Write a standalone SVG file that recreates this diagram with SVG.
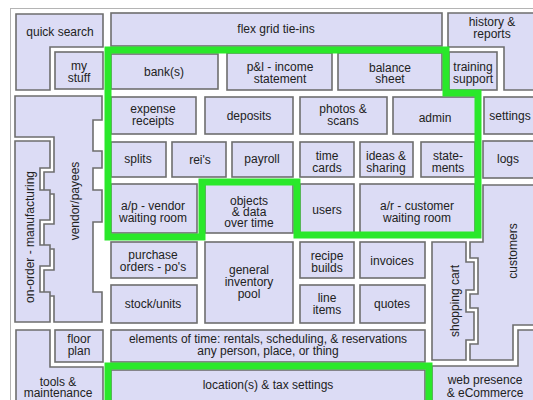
<svg xmlns="http://www.w3.org/2000/svg" width="533" height="400" viewBox="0 0 533 400">
<style>
.b{fill:#dcdcf5;stroke:#6e6e6e;stroke-width:1.6}
.t{font-family:"Liberation Sans",Arial,sans-serif;font-size:12px;fill:#222;text-anchor:middle}
.g{fill:none;stroke:#2ae82a;stroke-width:7;stroke-linejoin:miter}
</style>
<rect x="0" y="0" width="533" height="400" fill="#fff"/>
<rect x="10.5" y="8.5" width="530" height="400" fill="#fff" stroke="#b4b4b4" stroke-width="1"/>
<g id="quick-search"><path class="b" d="M16,14H103V47H50V90H16Z"/><text class="t" x="60" y="36">quick search</text></g>
<g id="my-stuff"><rect class="b" x="55" y="52" width="48" height="37"/><text class="t" x="79" y="70">my</text><text class="t" x="79" y="82">stuff</text></g>
<g id="flex-grid"><rect class="b" x="111" y="13" width="331" height="33"/><text class="t" x="276" y="33">flex grid tie-ins</text></g>
<g id="history"><path class="b" d="M448,13H540V90H504V47H448Z"/><text class="t" x="492" y="26">history &amp;</text><text class="t" x="492" y="38">reports</text></g>
<g id="banks"><rect class="b" x="111" y="54" width="107" height="35"/><text class="t" x="164" y="76">bank(s)</text></g>
<g id="pl"><rect class="b" x="227" y="53" width="105" height="37"/><text class="t" x="280" y="71">p&amp;l - income</text><text class="t" x="280" y="83">statement</text></g>
<g id="balance"><rect class="b" x="338" y="53" width="104" height="37"/><text class="t" x="390" y="72">balance</text><text class="t" x="390" y="83">sheet</text></g>
<g id="training"><rect class="b" x="449" y="52" width="48" height="38"/><text class="t" x="473" y="71">training</text><text class="t" x="473" y="83">support</text></g>
<g id="expense"><rect class="b" x="111" y="97" width="85" height="37"/><text class="t" x="153" y="113">expense</text><text class="t" x="153" y="125">receipts</text></g>
<g id="deposits"><rect class="b" x="205" y="97" width="88" height="37"/><text class="t" x="249" y="120">deposits</text></g>
<g id="photos"><rect class="b" x="300" y="97" width="87" height="37"/><text class="t" x="343" y="113">photos &amp;</text><text class="t" x="343" y="125">scans</text></g>
<g id="admin"><rect class="b" x="393" y="97" width="84" height="37"/><text class="t" x="435" y="122">admin</text></g>
<g id="settings"><rect class="b" x="484" y="97" width="56" height="37"/><text class="t" x="510" y="120">settings</text></g>
<g id="splits"><rect class="b" x="111" y="142" width="55" height="35"/><text class="t" x="138" y="163">splits</text></g>
<g id="reis"><rect class="b" x="172" y="142" width="54" height="35"/><text class="t" x="200" y="164">rei's</text></g>
<g id="payroll"><rect class="b" x="232" y="142" width="61" height="35"/><text class="t" x="262" y="163">payroll</text></g>
<g id="time-cards"><rect class="b" x="300" y="142" width="54" height="35"/><text class="t" x="327" y="160">time</text><text class="t" x="327" y="172">cards</text></g>
<g id="ideas"><rect class="b" x="360" y="142" width="53" height="35"/><text class="t" x="386" y="160">ideas &amp;</text><text class="t" x="386" y="172">sharing</text></g>
<g id="statements"><rect class="b" x="421" y="142" width="54" height="35"/><text class="t" x="448" y="160">state-</text><text class="t" x="448" y="172">ments</text></g>
<g id="logs"><rect class="b" x="483" y="141" width="57" height="37"/><text class="t" x="508" y="163">logs</text></g>
<g id="ap"><rect class="b" x="111" y="184" width="86" height="49"/><text class="t" x="153" y="210">a/p - vendor</text><text class="t" x="153" y="222">waiting room</text></g>
<g id="objects"><rect class="b" x="205" y="184" width="88" height="49"/><text class="t" x="249" y="205">objects</text><text class="t" x="249" y="216">&amp; data</text><text class="t" x="249" y="227">over time</text></g>
<g id="users"><rect class="b" x="300" y="184" width="54" height="49"/><text class="t" x="327" y="214">users</text></g>
<g id="ar"><rect class="b" x="360" y="184" width="115" height="49"/><text class="t" x="417" y="210">a/r - customer</text><text class="t" x="417" y="222">waiting room</text></g>
<g id="purchase"><rect class="b" x="111" y="242" width="86" height="36"/><text class="t" x="153" y="259">purchase</text><text class="t" x="153" y="271">orders - po's</text></g>
<g id="general"><rect class="b" x="205" y="242" width="88" height="81"/><text class="t" x="249" y="274">general</text><text class="t" x="249" y="286">inventory</text><text class="t" x="249" y="298">pool</text></g>
<g id="recipe"><rect class="b" x="300" y="242" width="54" height="36"/><text class="t" x="327" y="260">recipe</text><text class="t" x="327" y="272">builds</text></g>
<g id="invoices"><rect class="b" x="360" y="242" width="65" height="36"/><text class="t" x="392" y="265">invoices</text></g>
<g id="stock"><rect class="b" x="111" y="285" width="86" height="38"/><text class="t" x="153" y="308">stock/units</text></g>
<g id="line-items"><rect class="b" x="300" y="285" width="54" height="38"/><text class="t" x="327" y="302">line</text><text class="t" x="327" y="314">items</text></g>
<g id="quotes"><rect class="b" x="360" y="285" width="65" height="38"/><text class="t" x="392" y="308">quotes</text></g>
<g id="floor-plan"><rect class="b" x="55" y="330" width="48" height="32"/><text class="t" x="79" y="343">floor</text><text class="t" x="79" y="355">plan</text></g>
<g id="elements"><rect class="b" x="111" y="330" width="314" height="32"/><text class="t" x="268" y="343">elements of time: rentals, scheduling, &amp; reservations</text><text class="t" x="268" y="355">any person, place, or thing</text></g>
<g id="location"><rect class="b" x="111" y="370" width="314" height="40"/><text class="t" x="268" y="389">location(s) &amp; tax settings</text></g>
<g id="tools"><path class="b" d="M16,330H50V367H103V410H16Z"/><text class="t" x="58" y="386">tools &amp;</text><text class="t" x="58" y="397">maintenance</text></g>
<g id="web"><path class="b" d="M432,366H518V330H540V410H432Z"/><text class="t" x="485" y="384">web presence</text><text class="t" x="485" y="397">&amp; eCommerce</text></g>
<g id="vendor"><path class="b" d="M15,96H102V120H93V151H102V168H93V190H102V222H93V292H102V322H54V296H44V270H54V249H44V224H54V194H44V172H54V137H15Z"/><text class="t" transform="translate(79,201) rotate(-90)">vendor/payees</text></g>
<g id="on-order"><path class="b" d="M15,141H50V168H40V190H50V220H40V245H50V266H40V292H50V322H15Z"/><text class="t" transform="translate(34,237) rotate(-90)">on-order - manufacturing</text></g>
<g id="shopping-cart"><path class="b" d="M432,242H466V262H474V290H466V312H474V340H466V360H432Z"/><text class="t" transform="translate(459,301) rotate(-90)">shopping cart</text></g>
<g id="customers"><path class="b" d="M483,185H540V325H513V360H470V344H478V308H470V294H478V258H470V242H483Z"/><text class="t" transform="translate(517,251) rotate(-90)">customers</text></g>
<g id="connectors">
<path class="g" d="M108,50H446V93H478V235H297V182H202V237H108Z"/>
<path class="g" d="M108,410V366H429V410"/>
</g>
</svg>
